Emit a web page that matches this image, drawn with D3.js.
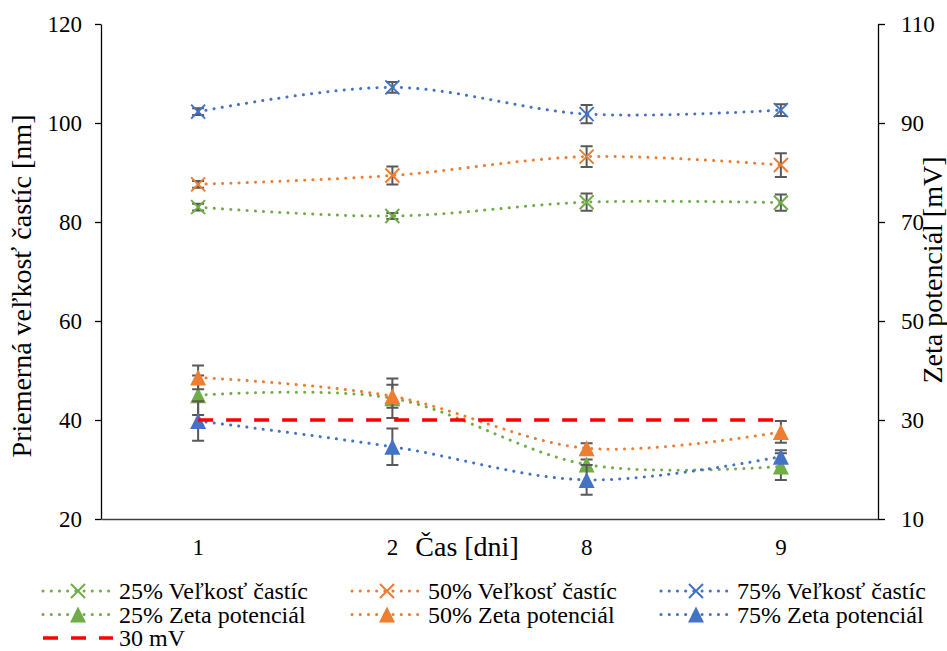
<!DOCTYPE html>
<html>
<head>
<meta charset="utf-8">
<script src="https://cdn.jsdelivr.net/npm/d3@7"></script>
<style>
  body { margin: 0; background: #fff; }
</style>
</head>
<body>
<div id="chart"></div>
<script>
// chart size and plot area
const WIDTH = 947;
const HEIGHT = 651;
const PLOT = { left: 101, right: 878, top: 24, bottom: 519 };
const FONT = "Liberation Serif";

// data
const days = ["1", "2", "8", "9"];

const size25 = [83.0, 81.2, 84.0, 83.9];
const size25Err = [0.7, 0.6, 1.75, 1.65];
const size50 = [87.6, 89.4, 93.2, 91.5];
const size50Err = [0.7, 1.8, 2.1, 2.4];
const size75 = [102.3, 107.2, 101.8, 102.6];
const size75Err = [0.7, 1.1, 1.85, 1.2];

const zeta25 = [35.0, 34.4, 21.0, 20.6];
const zeta25Err = [4.0, 4.0, 1.0, 2.7];
const zeta50 = [38.6, 34.8, 24.3, 27.6];
const zeta50Err = [2.4, 2.3, 1.0, 2.2];
const zeta75 = [29.8, 24.6, 17.9, 22.6];
const zeta75Err = [4.0, 3.7, 3.0, 1.3];

const limit30 = [30, 30, 30, 30];

const leftTicks = [20, 40, 60, 80, 100, 120];
const rightTicks = [10, 30, 50, 70, 90, 110];

const GREEN = "#70AD47", ORANGE = "#ED7D31", BLUE = "#4472C4", RED = "#FF0000", ERR = "#595959";

const svg = d3.select("#chart").append("svg")
  .attr("width", WIDTH)
  .attr("height", HEIGHT);

// scales
const x = d3.scaleBand().domain(days).range([PLOT.left, PLOT.right]);
const yLeft = d3.scaleLinear().domain([20, 120]).range([PLOT.bottom, PLOT.top]);
const yRight = d3.scaleLinear().domain([10, 110]).range([PLOT.bottom, PLOT.top]);
const cx = d => x(d) + x.bandwidth() / 2;

// axes
const gLeft = svg.append("g").attr("transform", "translate(" + PLOT.left + ",0)")
  .call(d3.axisLeft(yLeft).tickValues(leftTicks).tickSize(6).tickSizeOuter(0).tickPadding(13));
const gRight = svg.append("g").attr("transform", "translate(" + PLOT.right + ",0)")
  .call(d3.axisRight(yRight).tickValues(rightTicks).tickSize(7).tickSizeOuter(0).tickPadding(16));
const gBottom = svg.append("g").attr("transform", "translate(0," + PLOT.bottom + ")")
  .call(d3.axisBottom(x).tickSize(0).tickSizeOuter(0).tickPadding(20));

[gLeft, gRight].forEach(g => {
  g.select(".domain").attr("stroke", "#000").attr("stroke-width", 1.3);
  g.selectAll(".tick line").attr("stroke", "#000").attr("stroke-width", 1.3);
});
gBottom.select(".domain").attr("stroke", "#404040").attr("stroke-width", 1.5);
[gLeft, gRight, gBottom].forEach(g => {
  g.attr("font-family", FONT).attr("font-size", 23);
  g.selectAll("text").attr("fill", "#000");
});

// axis titles
svg.append("text")
  .attr("transform", "translate(31,286) rotate(-90)")
  .attr("text-anchor", "middle")
  .attr("font-family", FONT)
  .attr("font-size", 28)
  .text("Priemerná veľkosť častíc [nm]");

svg.append("text")
  .attr("transform", "translate(942,270) rotate(-90)")
  .attr("text-anchor", "middle")
  .attr("font-family", FONT)
  .attr("font-size", 28)
  .text("Zeta potenciál [mV]");

svg.append("text")
  .attr("x", 467)
  .attr("y", 556)
  .attr("text-anchor", "middle")
  .attr("font-family", FONT)
  .attr("font-size", 28)
  .text("Čas [dni]");

// markers
function drawMarker(g, type, color, px, py) {
  if (type === "x") {
    const s = 7;
    g.append("path")
      .attr("d", "M" + (px - s) + "," + (py - s) + "L" + (px + s) + "," + (py + s) +
                 "M" + (px - s) + "," + (py + s) + "L" + (px + s) + "," + (py - s))
      .attr("stroke", color)
      .attr("stroke-width", 2)
      .attr("fill", "none");
  } else if (type === "tri") {
    const w = 8, h = 8;
    g.append("path")
      .attr("d", "M" + px + "," + (py - h) + "L" + (px + w) + "," + (py + h) + "L" + (px - w) + "," + (py + h) + "Z")
      .attr("fill", color);
  }
}

const series = [
  { name: "25% Veľkosť častíc", vals: size25, err: size25Err, y: yLeft, color: GREEN, marker: "x" },
  { name: "50% Veľkosť častíc", vals: size50, err: size50Err, y: yLeft, color: ORANGE, marker: "x" },
  { name: "75% Veľkosť častíc", vals: size75, err: size75Err, y: yLeft, color: BLUE, marker: "x" },
  { name: "25% Zeta potenciál", vals: zeta25, err: zeta25Err, y: yRight, color: GREEN, marker: "tri" },
  { name: "50% Zeta potenciál", vals: zeta50, err: zeta50Err, y: yRight, color: ORANGE, marker: "tri" },
  { name: "75% Zeta potenciál", vals: zeta75, err: zeta75Err, y: yRight, color: BLUE, marker: "tri" },
  { name: "30 mV", vals: limit30, err: null, y: yRight, color: RED, marker: null, dashed: true }
];

const smooth = d3.line().curve(d3.curveCardinal.tension(0));
const straight = d3.line();

series.forEach(s => {
  const g = svg.append("g");
  const pts = s.vals.map((v, i) => [cx(days[i]), s.y(v)]);

  if (s.dashed) {
    g.append("path")
      .attr("d", straight(pts))
      .attr("fill", "none")
      .attr("stroke", s.color)
      .attr("stroke-width", 3.5)
      .attr("stroke-dasharray", "15,13");
    return;
  }

  g.append("path")
    .attr("d", smooth(pts))
    .attr("fill", "none")
    .attr("stroke", s.color)
    .attr("stroke-width", 3)
    .attr("stroke-linecap", "round")
    .attr("stroke-dasharray", "0.1,8.1");

  // error bars
  s.vals.forEach((v, i) => {
    const px = cx(days[i]);
    const y0 = s.y(v - s.err[i]), y1 = s.y(v + s.err[i]);
    g.append("path")
      .attr("d", "M" + px + "," + y0 + "V" + y1 +
                 "M" + (px - 6) + "," + y0 + "H" + (px + 6) +
                 "M" + (px - 6) + "," + y1 + "H" + (px + 6))
      .attr("stroke", ERR)
      .attr("stroke-width", 2)
      .attr("fill", "none");
  });

  pts.forEach(p => drawMarker(g, s.marker, s.color, p[0], p[1]));
});

// legend
const legCols = [43, 352, 661];
const legRows = [591, 614.5, 638];
series.forEach((s, i) => {
  const lx = legCols[i % 3];
  const ly = legRows[Math.floor(i / 3)];
  const g = svg.append("g");
  if (s.dashed) {
    g.append("path")
      .attr("d", "M" + lx + "," + ly + "H" + (lx + 70))
      .attr("stroke", s.color)
      .attr("stroke-width", 3.5)
      .attr("stroke-dasharray", "15,13");
  } else {
    g.append("path")
      .attr("d", "M" + lx + "," + ly + "H" + (lx + 70))
      .attr("stroke", s.color)
      .attr("stroke-width", 3)
      .attr("stroke-linecap", "round")
      .attr("stroke-dasharray", "0.1,8.1");
    drawMarker(g, s.marker, s.color, lx + 35, ly);
  }
  g.append("text")
    .attr("x", lx + 76)
    .attr("y", ly + 8)
    .attr("font-family", FONT)
    .attr("font-size", 24)
    .text(s.name);
});
</script>
</body>
</html>
